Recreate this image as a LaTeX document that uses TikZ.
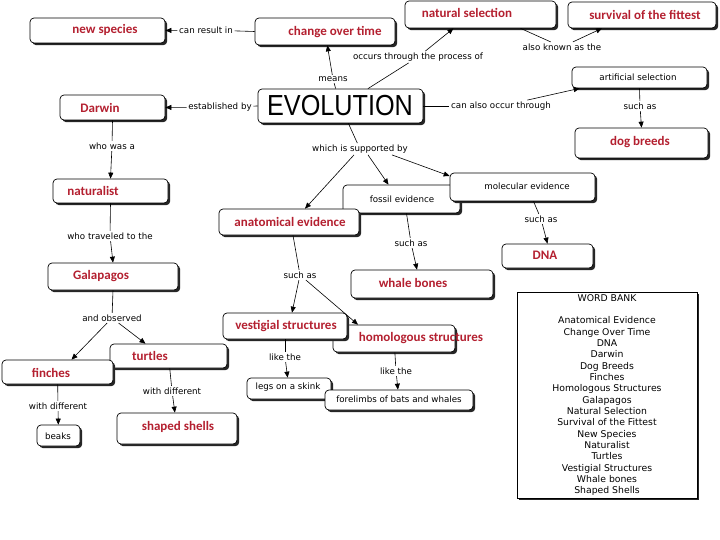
\documentclass[tikz,border=0pt]{standalone}
\usepackage{fontspec}
\usepackage{graphicx}
\usetikzlibrary{arrows.meta,shadows,calc}
\newfontfamily\redfont{Carlito}
\newfontfamily\lblfont{DejaVu Sans}
\newfontfamily\evofont{Liberation Sans}
\definecolor{evred}{RGB}{180,32,48}
\tikzset{
 box/.style={draw=black, line width=0.7pt, rounded corners=4pt, fill=white, inner sep=0pt,
   drop shadow={shadow xshift=2.2pt, shadow yshift=-2.2pt, fill=black!85, opacity=1}},
 rtxt/.style={text=evred, font=\redfont\bfseries\fontsize{13}{15}\selectfont, inner sep=0pt},
 stxt/.style={font=\lblfont\fontsize{8.7}{10}\selectfont, inner sep=0pt},
 lbl/.style={font=\lblfont\fontsize{8.7}{10}\selectfont, inner sep=1.5pt},
 ln/.style={line width=0.6pt},
 arr/.style={line width=0.6pt, -{Triangle[length=6pt,width=5pt]}},
}
\begin{document}
\begin{tikzpicture}[x=1pt,y=-1pt]
\useasboundingbox[fill=white] (0,0) rectangle (720,540);
% boxes
\node[box, minimum width=135pt, minimum height=25pt] (ns) at (97.5,30.5) {};
\node[box, minimum width=140pt, minimum height=27pt] (cot) at (325,31.5) {};
\node[box, minimum width=151pt, minimum height=27pt] (nsel) at (480.5,14.5) {};
\node[box, minimum width=148pt, minimum height=26pt] (sof) at (642,15) {};
\node[box, minimum width=165pt, minimum height=34pt] (evo) at (340.5,106) {};
\node[box, minimum width=105pt, minimum height=25pt] (dar) at (112.5,107.5) {};
\node[box, minimum width=135pt, minimum height=21pt] (art) at (639.5,77.5) {};
\node[box, minimum width=133pt, minimum height=30pt] (dog) at (641.5,143) {};
\node[box, minimum width=115pt, minimum height=24pt] (nat) at (110.5,191) {};
\node[box, minimum width=117pt, minimum height=28pt] (fos) at (401.5,199) {};
\node[box, minimum width=145pt, minimum height=28pt] (mol) at (522.5,187) {};
\node[box, minimum width=140pt, minimum height=26pt] (anat) at (289,222) {};
\node[box, minimum width=91pt, minimum height=24pt] (dna) at (547.5,256) {};
\node[box, minimum width=142pt, minimum height=28pt] (whb) at (422,284) {};
\node[box, minimum width=130pt, minimum height=27pt] (gal) at (113,276.5) {};
\node[box, minimum width=122pt, minimum height=27pt] (hom) at (394,338.5) {};
\node[box, minimum width=124pt, minimum height=26pt] (vest) at (285,326) {};
\node[box, minimum width=117pt, minimum height=24pt] (tur) at (168.5,356) {};
\node[box, minimum width=111pt, minimum height=24pt] (fin) at (57.5,372) {};
\node[box, minimum width=84pt, minimum height=21pt] (legs) at (289,388.5) {};
\node[box, minimum width=148pt, minimum height=20pt] (fore) at (399,400) {};
\node[box, minimum width=43pt, minimum height=21pt] (beaks) at (58.5,435.5) {};
\node[box, minimum width=120pt, minimum height=31pt] (shells) at (177,428.5) {};
\node[box, rounded corners=0pt, minimum width=180pt, minimum height=206pt] (wb) at (607,395) {};
% box texts
\node[rtxt] (nst) at (105,30) {new species};
\node[rtxt] (cott) at (335,32) {change over time};
\node[rtxt] (nselt) at (467,13) {natural selection};
\node[rtxt] (soft) at (645,15) {survival of the fittest};
\node[inner sep=0pt, font=\evofont\fontsize{29}{30}\selectfont] (evot) at (340,106) {\scalebox{0.87}[1]{EVOLUTION}};
\node[rtxt] (dart) at (100,108) {Darwin};
\node[stxt] (artt) at (638,77) {artificial selection};
\node[rtxt] (dogt) at (640,142) {dog breeds};
\node[rtxt] (natt) at (93,191) {naturalist};
\node[stxt] (fost) at (402,199) {fossil evidence};
\node[stxt] (molt) at (527,186) {molecular evidence};
\node[rtxt] (anatt) at (290,222) {anatomical evidence};
\node[rtxt] (dnat) at (545,255) {DNA};
\node[rtxt] (whbt) at (413,283) {whale bones};
\node[rtxt] (galt) at (101,276) {Galapagos};
\node[rtxt] (vestt) at (286,326) {vestigial structures};
\node[rtxt] (homt) at (421,338) {homologous structures};
\node[rtxt] (turt) at (150,356) {turtles};
\node[rtxt] (fint) at (51,373) {finches};
\node[stxt] (legst) at (288,387) {legs on a skink};
\node[stxt] (foret) at (399,399) {forelimbs of bats and whales};
\node[stxt] (beakst) at (58,436) {beaks};
\node[rtxt] (shellst) at (178,427) {shaped shells};
\node[anchor=north, align=center, inner sep=0pt, font=\lblfont\fontsize{9.3}{11.33}\selectfont] (wbt) at (607,294)
 {WORD BANK\\[11.33pt]Anatomical Evidence\\Change Over Time\\DNA\\Darwin\\Dog Breeds\\Finches\\Homologous Structures\\Galapagos\\Natural Selection\\Survival of the Fittest\\New Species\\Naturalist\\Turtles\\Vestigial Structures\\Whale bones\\Shaped Shells};
% labels
\node[lbl] (l1) at (206,30) {can result in};
\node[lbl] (l2) at (333,79) {means};
\node[lbl] (l3) at (418,57) {occurs through the process of};
\node[lbl] (l4) at (562,47) {also known as the};
\node[lbl] (l5) at (220,107) {established by};
\node[lbl] (l6) at (501,106) {can also occur through};
\node[lbl] (l7) at (640,106) {such as};
\node[lbl] (l8) at (112,146) {who was a};
\node[lbl] (l9) at (110,236) {who traveled to the};
\node[lbl] (l10) at (112,318) {and observed};
\node[lbl] (l11) at (360,149) {which is supported by};
\node[lbl] (l12) at (411,243) {such as};
\node[lbl] (l13) at (541,219) {such as};
\node[lbl] (l14) at (300,275) {such as};
\node[lbl] (l15) at (285,357) {like the};
\node[lbl] (l16) at (396,371) {like the};
\node[lbl] (l17) at (58,406) {with different};
\node[lbl] (l18) at (172,391) {with different};
% connectors
\draw[ln] (cot.west) -- (l1); \draw[arr] (l1) -- (ns.east);
\draw[ln] (evo) -- (l2); \draw[arr] (l2) -- (cot);
\draw[ln] (evo) -- (l3); \draw[arr] (l3) -- ($(nsel.south)+(-27,0)$);
\draw[ln] ($(nsel.south)+(40,0)$) -- (l4); \draw[arr] (l4) -- ($(sof.south)+(-40,0)$);
\draw[ln] (evo.west) -- (l5); \draw[arr] (l5) -- (dar.east);
\draw[ln] (evo.east) -- (l6); \draw[arr] (l6) -- ($(art.south west)+(8,0)$);
\draw[ln] (art.south) -- (l7); \draw[arr] (l7) -- (dog.north);
\draw[ln] (dar.south) -- (l8); \draw[arr] (l8) -- (nat.north);
\draw[ln] (nat.south) -- (l9); \draw[arr] (l9) -- (gal.north);
\draw[ln] (gal.south) -- (l10);
\draw[arr] (l10) -- ($(fin.north)+(14,0)$);
\draw[arr] (l10) -- ($(tur.north)+(-23,0)$);
\draw[ln] (evo) -- (l11);
\draw[arr] ($(l11.south)+(-6,0)$) -- ($(anat.north)+(16,0)$);
\draw[arr] ($(l11.south)+(8,0)$) -- ($(fos.north)+(-13,0)$);
\draw[arr] ($(l11.south)+(32,0)$) -- ($(mol.west)+(0,-11)$);
\draw[ln] ($(fos.south)+(5,0)$) -- (l12); \draw[arr] (l12) -- ($(whb.north)+(-5,0)$);
\draw[ln] ($(mol.south)+(11,0)$) -- (l13); \draw[arr] (l13) -- (dna.north);
\draw[ln] ($(anat.south)+(4,0)$) -- (l14);
\draw[arr] (l14) -- ($(vest.north)+(7,0)$);
\draw[arr] (l14) -- ($(hom.north)+(-36,0)$);
\draw[ln] (vest) -- (l15); \draw[arr] (l15) -- (legs);
\draw[ln] (hom) -- (l16); \draw[arr] (l16) -- (fore);
\draw[ln] (fin) -- (l17); \draw[arr] (l17) -- (beaks);
\draw[ln] (tur) -- (l18); \draw[arr] (l18) -- (shells);
\end{tikzpicture}
\end{document}
